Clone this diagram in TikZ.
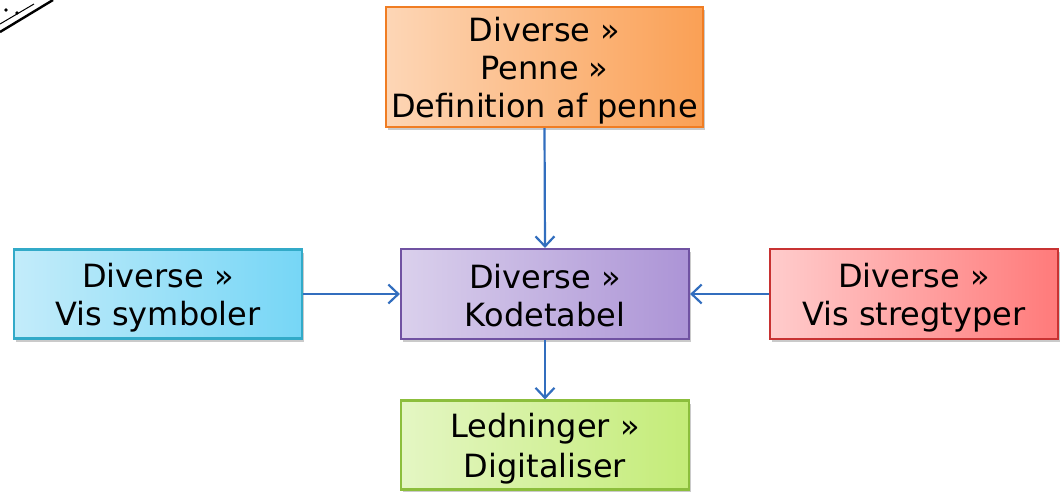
\documentclass[tikz,border=0pt]{standalone}
\usepackage{fontspec}
\setmainfont{DejaVu Sans}
\usetikzlibrary{arrows.meta,shadows}
\newcommand\lnstrut{\rule[-6pt]{0pt}{38pt}}
\definecolor{arrowblue}{RGB}{50,110,190}
\definecolor{orL}{RGB}{253,214,182}
\definecolor{orR}{RGB}{250,160,85}
\definecolor{orB}{RGB}{240,125,35}
\definecolor{blL}{RGB}{195,236,250}
\definecolor{blR}{RGB}{118,214,246}
\definecolor{blB}{RGB}{50,170,200}
\definecolor{puL}{RGB}{218,208,236}
\definecolor{puR}{RGB}{172,148,214}
\definecolor{puB}{RGB}{112,82,162}
\definecolor{reL}{RGB}{255,204,204}
\definecolor{reR}{RGB}{255,122,122}
\definecolor{reB}{RGB}{200,50,50}
\definecolor{grL}{RGB}{228,246,195}
\definecolor{grR}{RGB}{196,236,120}
\definecolor{grB}{RGB}{140,190,60}
\tikzset{
  box/.style={draw, line width=2.2pt, align=center, inner sep=0pt,
    font=\fontsize{32}{38}\selectfont,
    drop shadow={shadow xshift=2pt, shadow yshift=-3pt, opacity=0.35, fill=black!60}},
  orangebox/.style={box, draw=orB, left color=orL, right color=orR},
  bluebox/.style={box, draw=blB, left color=blL, right color=blR},
  purplebox/.style={box, draw=puB, left color=puL, right color=puR},
  redbox/.style={box, draw=reB, left color=reL, right color=reR},
  greenbox/.style={box, draw=grB, left color=grL, right color=grR},
  conn/.style={draw=arrowblue, line width=2.2pt,
    -{Straight Barb[length=10pt,width=19pt,line width=2.2pt]}}
}
\begin{document}
\begin{tikzpicture}[x=1pt,y=-1pt]
\useasboundingbox (0,0) rectangle (1062,491);
% scribble fragment top-left
\draw[line width=2.4pt] (0,32) -- (53,0);
\draw[line width=1pt] (0,24) -- (34,4);
\fill (6,10) circle (1.8pt) (17,13) circle (1.8pt);
% nodes
\node[orangebox, minimum width=317pt, minimum height=120pt] (top) at (544.5,67)
  {\lnstrut Diverse »\\\lnstrut Penne »\\\lnstrut Definition af penne};
\node[bluebox, minimum width=288pt, minimum height=89pt] (left) at (158,294)
  {\lnstrut Diverse »\\\lnstrut Vis symboler};
\node[purplebox, minimum width=288pt, minimum height=90pt] (mid) at (545,294)
  {\lnstrut Diverse »\\\lnstrut Kodetabel};
\node[redbox, minimum width=288pt, minimum height=90pt] (right) at (914,294)
  {\lnstrut Diverse »\\\lnstrut Vis stregtyper};
\node[greenbox, minimum width=288pt, minimum height=89pt] (bot) at (545,445)
  {\lnstrut Ledninger »\\\lnstrut Digitaliser};
% connectors
\draw[conn] (top.south) -- (mid.north);
\draw[conn] (left.east) -- (mid.west);
\draw[conn] (right.west) -- (mid.east);
\draw[conn] (mid.south) -- (bot.north);
\end{tikzpicture}
\end{document}
